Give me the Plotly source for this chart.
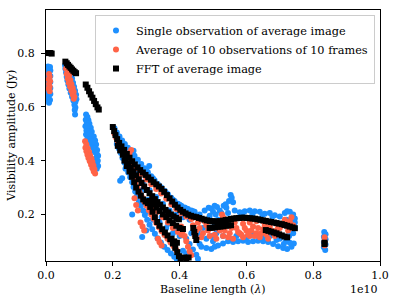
import plotly.graph_objects as go

# x values are baseline lengths in units of 1e10 wavelengths; y in Jy
single_c1 = [(0.006,0.750),(0.012,0.748),(0.005,0.738),(0.013,0.735),(0.008,0.728),(0.005,0.718),(0.013,0.715),(0.009,0.705),
             (0.005,0.695),(0.013,0.692),(0.008,0.682),(0.005,0.672),(0.013,0.670),(0.009,0.660),(0.005,0.650),(0.013,0.648),
             (0.008,0.638),(0.006,0.628),(0.012,0.625),(0.009,0.615)]
single_c2 = [(0.057,0.755),(0.064,0.758),(0.058,0.742),(0.066,0.745),(0.072,0.735),(0.060,0.728),(0.068,0.725),(0.076,0.720),
             (0.062,0.712),(0.070,0.710),(0.078,0.705),(0.064,0.698),(0.073,0.695),(0.081,0.690),(0.067,0.683),(0.076,0.680),
             (0.084,0.675),(0.070,0.668),(0.079,0.665),(0.087,0.660),(0.074,0.652),(0.083,0.650),(0.090,0.645),(0.078,0.638),
             (0.086,0.635),(0.091,0.628),(0.082,0.624),(0.088,0.618),(0.085,0.608),(0.088,0.598),(0.086,0.588),(0.087,0.572)]
single_c3 = [(0.120,0.572),(0.124,0.562),(0.119,0.552),(0.127,0.550),(0.122,0.540),(0.130,0.537),(0.118,0.528),(0.126,0.525),
             (0.134,0.522),(0.121,0.512),(0.129,0.510),(0.137,0.507),(0.120,0.497),(0.128,0.495),(0.136,0.492),(0.143,0.490),
             (0.124,0.482),(0.132,0.480),(0.140,0.477),(0.147,0.475),(0.128,0.467),(0.136,0.465),(0.144,0.462),(0.150,0.460),
             (0.140,0.450),(0.148,0.447),(0.153,0.440),(0.145,0.435),(0.152,0.425),(0.156,0.418),(0.150,0.410),(0.155,0.400),
             (0.152,0.390),(0.156,0.380),(0.152,0.370),(0.123,0.530),(0.131,0.500),(0.139,0.470),(0.143,0.445),(0.148,0.430)]
single_main = [(0.205,0.520),(0.212,0.505),(0.220,0.490),(0.228,0.475),(0.236,0.462),(0.245,0.448),(0.255,0.433),(0.265,0.418),
               (0.275,0.403),(0.285,0.388),(0.295,0.372),(0.305,0.357),(0.315,0.342),(0.325,0.327),(0.335,0.312),(0.345,0.300),
               (0.355,0.288),(0.365,0.275),(0.375,0.262),(0.385,0.250),(0.395,0.240),(0.405,0.232),(0.415,0.226),(0.425,0.220),
               (0.435,0.215),(0.445,0.210),
               (0.212,0.462),(0.218,0.445),(0.224,0.428),(0.229,0.410),(0.235,0.392),(0.240,0.374),(0.246,0.356),(0.252,0.338),
               (0.258,0.320),(0.262,0.302),(0.267,0.285),(0.272,0.268),(0.278,0.250),(0.284,0.232),(0.290,0.215),(0.296,0.198),
               (0.303,0.180),(0.310,0.162),(0.318,0.145),(0.326,0.128),(0.334,0.112),(0.344,0.096),(0.354,0.080),(0.364,0.068),
               (0.374,0.055),(0.384,0.043),(0.392,0.033),
               (0.222,0.325),(0.228,0.335),(0.288,0.116),(0.309,0.380),(0.262,0.437),(0.258,0.200),(0.300,0.140),
               (0.250,0.390),(0.270,0.355),(0.290,0.320),(0.310,0.290),(0.330,0.265),(0.350,0.240),(0.370,0.215),(0.390,0.200),
               (0.410,0.190),(0.430,0.180),(0.280,0.240),(0.300,0.210),(0.320,0.180),(0.340,0.170),(0.360,0.150),(0.380,0.130),
               (0.400,0.120),(0.420,0.110),(0.430,0.090),(0.440,0.070),(0.450,0.050),(0.455,0.035),(0.410,0.065),(0.420,0.055),
               (0.435,0.130),(0.455,0.140),(0.460,0.120),(0.460,0.090),
               (0.300,0.365),(0.320,0.335),(0.340,0.305),(0.360,0.280),(0.380,0.255),(0.400,0.236),(0.420,0.222),(0.440,0.212),
               (0.238,0.370),(0.262,0.330),(0.286,0.290),(0.306,0.255),(0.326,0.220),(0.346,0.190),(0.366,0.165),(0.386,0.140)]
single_flat = [(0.460,0.200),(0.475,0.215),(0.487,0.225),(0.495,0.222),(0.500,0.210),(0.505,0.232),(0.512,0.228),(0.520,0.215),
               (0.532,0.232),(0.538,0.238),(0.548,0.250),(0.553,0.272),(0.556,0.262),(0.560,0.245),(0.565,0.215),(0.580,0.208),
               (0.595,0.212),(0.610,0.215),(0.625,0.212),(0.640,0.210),(0.655,0.203),(0.670,0.205),(0.685,0.197),(0.700,0.192),
               (0.715,0.205),(0.722,0.212),(0.730,0.210),(0.740,0.200),(0.745,0.185),
               (0.465,0.080),(0.480,0.075),(0.495,0.072),(0.505,0.080),(0.515,0.085),(0.530,0.092),(0.545,0.100),(0.560,0.098),
               (0.575,0.100),(0.590,0.102),(0.605,0.098),(0.620,0.100),(0.635,0.102),(0.650,0.100),(0.665,0.098),(0.680,0.090),
               (0.695,0.082),(0.710,0.075),(0.722,0.072),(0.735,0.080),(0.742,0.092),
               (0.470,0.150),(0.480,0.110),(0.497,0.120),(0.510,0.130),(0.530,0.120),(0.550,0.110),(0.570,0.120),(0.600,0.115),
               (0.620,0.125),(0.650,0.115),(0.670,0.120),(0.690,0.105),(0.700,0.110),(0.718,0.100),(0.728,0.120),(0.740,0.130),
               (0.745,0.150),(0.720,0.180),(0.712,0.090),(0.730,0.095),(0.500,0.100),(0.515,0.180),
               (0.490,0.195),(0.508,0.200),(0.525,0.205),(0.545,0.205),(0.588,0.200),(0.618,0.200),(0.648,0.198),(0.678,0.192),
               (0.497,0.175),(0.505,0.160),(0.540,0.225),(0.735,0.185),(0.745,0.170)]
single_far = [(0.833,0.135),(0.837,0.126),(0.832,0.117),(0.837,0.108),(0.832,0.098),(0.837,0.088),(0.832,0.078),(0.836,0.068)]

avg_c1 = [(0.009,0.722),(0.011,0.712),(0.008,0.702),(0.012,0.695),(0.009,0.685),(0.011,0.675),(0.008,0.668),(0.011,0.658)]
avg_c2 = [(0.060,0.742),(0.066,0.735),(0.062,0.722),(0.070,0.718),(0.065,0.705),(0.073,0.700),(0.068,0.690),(0.076,0.685),
          (0.072,0.675),(0.080,0.670),(0.076,0.660),(0.083,0.655),(0.080,0.645),(0.085,0.638),(0.083,0.630)]
avg_c3 = [(0.117,0.472),(0.121,0.460),(0.118,0.448),(0.125,0.445),(0.121,0.435),(0.129,0.432),(0.124,0.422),(0.132,0.420),
          (0.127,0.410),(0.136,0.408),(0.131,0.398),(0.139,0.395),(0.135,0.385),(0.142,0.382),(0.139,0.372),(0.145,0.368),
          (0.143,0.360),(0.147,0.352)]
avg_main = [(0.205,0.500),(0.210,0.485),(0.215,0.470),(0.220,0.455),(0.226,0.440),(0.232,0.423),(0.238,0.405),(0.244,0.388),
            (0.250,0.370),(0.256,0.352),(0.262,0.335),(0.268,0.318),(0.274,0.300),(0.280,0.282),(0.287,0.265),(0.294,0.248),
            (0.301,0.232),(0.308,0.216),(0.315,0.200),(0.322,0.184),(0.330,0.168),(0.338,0.152),(0.346,0.138),(0.355,0.124),
            (0.364,0.110),(0.373,0.096),(0.382,0.082),(0.390,0.068),
            (0.240,0.415),(0.255,0.395),(0.270,0.372),(0.285,0.350),(0.300,0.330),(0.315,0.312),(0.330,0.295),(0.345,0.278),
            (0.360,0.258),(0.375,0.238),(0.390,0.220),(0.405,0.205),(0.420,0.192),(0.435,0.183),
            (0.320,0.230),(0.335,0.210),(0.350,0.190),(0.365,0.170),(0.380,0.150),(0.395,0.135),(0.405,0.125),
            (0.283,0.170),(0.289,0.155),(0.294,0.140),(0.335,0.110),(0.340,0.097),(0.346,0.085),(0.265,0.260),(0.270,0.235),
            (0.275,0.215),(0.255,0.440),(0.250,0.428),(0.405,0.155),(0.410,0.140),(0.415,0.120),(0.420,0.100),(0.425,0.080),
            (0.430,0.062),(0.435,0.048)]
avg_flat = [(0.440,0.160),(0.450,0.140),(0.460,0.150),(0.470,0.130),(0.480,0.160),(0.490,0.120),(0.500,0.150),(0.510,0.110),
            (0.520,0.140),(0.530,0.120),(0.540,0.160),(0.550,0.130),(0.560,0.110),(0.570,0.150),(0.580,0.130),(0.590,0.115),
            (0.600,0.140),(0.610,0.120),(0.620,0.155),(0.630,0.130),(0.640,0.115),(0.650,0.145),(0.660,0.125),(0.670,0.155),
            (0.680,0.130),(0.690,0.140),(0.700,0.150),(0.710,0.160),(0.720,0.170),(0.730,0.175),(0.740,0.160),
            (0.520,0.175),(0.530,0.190),(0.527,0.200),(0.455,0.170),(0.475,0.175),(0.545,0.175),(0.565,0.170),(0.590,0.165),
            (0.610,0.170),(0.630,0.175),(0.650,0.175),(0.670,0.170),(0.690,0.165),(0.715,0.180),(0.735,0.190),
            (0.465,0.115),(0.505,0.125),(0.545,0.115),(0.585,0.125),(0.625,0.120),(0.665,0.110),(0.700,0.125),(0.725,0.140),
            (0.485,0.140),(0.515,0.150),(0.535,0.140),(0.555,0.150),(0.575,0.135),(0.595,0.150),(0.615,0.140),(0.635,0.150),
            (0.655,0.160),(0.675,0.140),(0.695,0.150),(0.735,0.150),(0.445,0.125),(0.605,0.125),(0.645,0.130),(0.685,0.120)]
avg_far = [(0.834,0.115),(0.834,0.100),(0.834,0.085)]

fft_c1 = [(0.003,0.800),(0.008,0.800),(0.013,0.800),(0.017,0.798)]
fft_c2 = [(0.058,0.768),(0.062,0.762),(0.066,0.756),(0.070,0.750),(0.074,0.745),(0.078,0.739),(0.082,0.734),(0.086,0.729),
          (0.090,0.725)]
fft_c3 = [(0.119,0.683),(0.124,0.671),(0.129,0.658),(0.134,0.646),(0.139,0.634),(0.144,0.622),(0.149,0.610),(0.154,0.598),
          (0.158,0.590)]
fft_main = [(0.200,0.525),(0.204,0.510),(0.208,0.495),(0.213,0.480),(0.219,0.466),(0.226,0.453),(0.234,0.440),(0.242,0.425),
            (0.250,0.411),(0.258,0.398),(0.266,0.386),(0.274,0.375),(0.282,0.365),(0.290,0.356),(0.298,0.347),(0.306,0.338),
            (0.314,0.329),(0.322,0.320),(0.330,0.312),(0.338,0.304),(0.346,0.295),(0.354,0.284),(0.362,0.272),(0.370,0.260),
            (0.378,0.248),(0.386,0.236),(0.394,0.226),(0.402,0.217),(0.410,0.210),(0.418,0.204),(0.426,0.199),(0.434,0.195),
            (0.442,0.192),
            (0.215,0.455),(0.222,0.438),(0.230,0.422),(0.238,0.406),(0.246,0.390),(0.254,0.375),(0.262,0.360),(0.270,0.345),
            (0.278,0.331),(0.286,0.317),(0.294,0.304),(0.302,0.291),(0.310,0.279),(0.318,0.268),(0.326,0.257),(0.334,0.246),
            (0.342,0.236),(0.350,0.226),(0.358,0.217),(0.366,0.208),(0.374,0.200),(0.382,0.193),(0.390,0.187),(0.398,0.182),
            (0.235,0.400),(0.242,0.380),(0.250,0.360),(0.257,0.340),(0.264,0.320),(0.270,0.300),(0.277,0.285),(0.284,0.270),
            (0.291,0.256),(0.298,0.248),(0.305,0.242),(0.312,0.228),(0.319,0.210),(0.326,0.190),(0.333,0.172),(0.340,0.158),
            (0.348,0.145),(0.356,0.133),(0.364,0.122),(0.372,0.108),(0.380,0.092),(0.387,0.076),(0.393,0.060),(0.398,0.045),
            (0.403,0.033),
            (0.310,0.250),(0.320,0.238),(0.330,0.226),(0.340,0.213),(0.350,0.200),(0.360,0.190),(0.370,0.178),(0.380,0.168),
            (0.390,0.158),(0.400,0.150),(0.410,0.146),
            (0.376,0.110),(0.384,0.100),(0.392,0.095),(0.441,0.150),(0.444,0.135),(0.447,0.120),(0.450,0.105),(0.413,0.040),
            (0.420,0.036),(0.427,0.040)]
fft_flat = [(0.450,0.190),(0.458,0.187),(0.466,0.184),(0.474,0.181),(0.482,0.178),(0.490,0.176),(0.498,0.175),(0.506,0.174),
            (0.514,0.174),(0.522,0.175),(0.530,0.177),(0.538,0.179),(0.546,0.181),(0.554,0.183),(0.562,0.185),(0.570,0.186),
            (0.578,0.187),(0.586,0.188),(0.594,0.188),(0.602,0.187),(0.610,0.186),(0.618,0.185),(0.626,0.184),(0.634,0.182),
            (0.642,0.180),(0.650,0.178),(0.658,0.176),(0.666,0.174),(0.674,0.172),(0.682,0.170),(0.690,0.168),(0.698,0.166),
            (0.706,0.164),(0.714,0.161),(0.722,0.158),(0.730,0.155),(0.738,0.152),(0.745,0.149),
            (0.490,0.150),(0.498,0.151),(0.506,0.152),(0.514,0.154),(0.522,0.155),(0.530,0.156),(0.538,0.158),(0.546,0.159),
            (0.554,0.160),(0.658,0.142),(0.666,0.139),(0.674,0.136),(0.682,0.133),(0.690,0.130),(0.698,0.126),(0.706,0.122),
            (0.714,0.118),(0.722,0.115)]
fft_far = [(0.834,0.095),(0.834,0.090)]

single_obs = single_c1 + single_c2 + single_c3 + single_main + single_flat + single_far
avg_obs = avg_c1 + avg_c2 + avg_c3 + avg_main + avg_flat + avg_far
fft_obs = fft_c1 + fft_c2 + fft_c3 + fft_main + fft_flat + fft_far

x_ticks = [0.0, 0.2, 0.4, 0.6, 0.8, 1.0]
y_ticks = [0.2, 0.4, 0.6, 0.8]

FONT = "DejaVu Serif"

fig = go.Figure()
for name, pts, color, symbol, size in [
    ("Single observation of average image", single_obs, "#1E90FF", "circle", 6),
    ("Average of 10 observations of 10 frames", avg_obs, "#FF6347", "circle", 6),
    ("FFT of average image", fft_obs, "black", "square", 6),
]:
    fig.add_trace(go.Scatter(
        x=[p[0] for p in pts], y=[p[1] for p in pts], mode="markers", name=name,
        marker=dict(color=color, symbol=symbol, size=size, line=dict(width=0)),
    ))

axis_common = dict(showline=True, mirror=True, linecolor="black", linewidth=1, ticks="outside",
                   ticklen=4, tickwidth=1, tickcolor="black", showgrid=False, zeroline=False,
                   tickfont=dict(family=FONT, size=11, color="black"))
fig.update_xaxes(range=[0, 1.0], tickvals=x_ticks, ticktext=[f"{v:.1f}" for v in x_ticks], **axis_common)
fig.update_yaxes(range=[0.027, 0.96], tickvals=y_ticks, ticktext=[f"{v:.1f}" for v in y_ticks],
                 ticklabelstandoff=4, **axis_common)

fig.update_layout(
    width=398, height=302,
    margin=dict(l=46, r=15, t=9, b=41),
    plot_bgcolor="white", paper_bgcolor="white",
    font=dict(family=FONT, size=11, color="black"),
    showlegend=True,
    legend=dict(x=0.985, xanchor="right", y=0.98, yanchor="top",
                bgcolor="rgba(255,255,255,0.8)", bordercolor="#cccccc", borderwidth=1,
                font=dict(family=FONT, size=11.3, color="black"), tracegroupgap=0, itemwidth=30),
    annotations=[
        dict(text="Visibility amplitude (Jy)", xref="paper", yref="paper", x=-0.104, y=0.5,
             textangle=-90, showarrow=False, xanchor="center", yanchor="middle", font=dict(size=11)),
        dict(text="Baseline length (<i>λ</i>)", xref="paper", yref="paper", x=0.5, y=-0.112,
             showarrow=False, xanchor="center", yanchor="middle", font=dict(size=11)),
        dict(text="1e10", xref="paper", yref="paper", x=1.0, y=-0.112,
             showarrow=False, xanchor="right", yanchor="middle", font=dict(size=11)),
    ],
)

fig.write_html("out.html", config={"displayModeBar": False},
               post_script="document.body.style.margin='0';")
